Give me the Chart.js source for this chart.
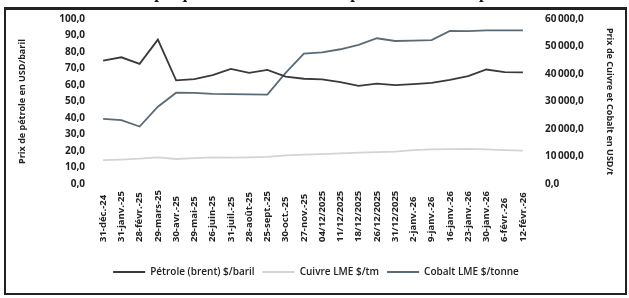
<!DOCTYPE html>
<html>
<head>
<meta charset="utf-8">
<script src="https://cdn.jsdelivr.net/npm/chart.js@4.4.1/dist/chart.umd.min.js"></script>
<style>
html, body { margin: 0; padding: 0; background: #fff; width: 629px; height: 298px; overflow: hidden; }
#wrap { position: relative; width: 629px; height: 298px; }
#titre { position: absolute; left: 0; top: -17px; width: 551px; text-align: right; font: bold 17px "Liberation Serif"; color: #111; white-space: nowrap; }
#cadre { position: absolute; left: 4px; top: 7px; width: 619px; height: 283px; border: 2px solid #222; border-top-width: 3px; }
canvas { position: absolute; left: 0; top: 0; }
</style>
</head>
<body>
<div id="wrap">
  <canvas id="graphe" width="629" height="298"></canvas>
  <div id="cadre"></div>
  <div id="titre">Graphique n°1 : Évolution des prix des matières premières</div>
</div>
<script>
// donnees
var dates = ["31-déc.-24", "31-janv.-25", "28-févr.-25", "29-mars-25", "30-avr.-25", "29-mai-25",
  "26-juin-25", "31-juil.-25", "28-août-25", "25-sept.-25", "30-oct.-25", "27-nov.-25",
  "04/12/2025", "11/12/2025", "18/12/2025", "26/12/2025", "31/12/2025", "2-janv.-26",
  "9-janv.-26", "16-janv.-26", "23-janv.-26", "30-janv.-26", "6-févr.-26", "12-févr.-26"];

var petrole = [74.8, 76.8, 72.8, 87.5, 62.8, 63.6, 66.0, 69.8, 67.3, 69.2, 65.1, 63.8,
  63.4, 61.7, 59.5, 60.8, 59.9, 60.5, 61.3, 63.1, 65.4, 69.4, 67.8, 67.6];

var cuivre = [8700, 8900, 9200, 9700, 9100, 9400, 9700, 9600, 9700, 9900, 10400, 10700,
  10900, 11100, 11400, 11600, 11800, 12300, 12600, 12700, 12800, 12600, 12300, 12100];

var cobalt = [23700, 23200, 20900, 28100, 33200, 33100, 32800, 32700, 32600, 32500, 40400, 47400,
  47900, 49000, 50600, 53000, 52000, 52100, 52300, 55700, 55600, 55900, 55900, 55900];

var ticksGauche = [0, 10, 20, 30, 40, 50, 60, 70, 80, 90, 100];
var ticksDroite = [0, 10000, 20000, 30000, 40000, 50000, 60000];

function fmt1(v) {
  return v.toFixed(1).replace('.', ',');
}
function fmtMilliers(v) {
  var ent = Math.round(v).toString().replace(/\B(?=(\d{3})+(?!\d))/g, '\u2009');
  return ent + ',0';
}

var police = '"Open Sans"';

// etiquettes des dates, alignees en bas comme dans Excel
var etiquettesX = {
  id: 'etiquettesX',
  afterDraw: function(chart) {
    var sx = chart.scales.x;
    var ctx = chart.ctx;
    ctx.save();
    ctx.font = 'bold 9.5px ' + police;
    ctx.fillStyle = '#222';
    ctx.textAlign = 'left';
    ctx.textBaseline = 'middle';
    var yBas = chart.chartArea.bottom + 58;
    dates.forEach(function(d, i) {
      var x = sx.getPixelForValue(i);
      ctx.save();
      ctx.translate(x, yBas);
      ctx.rotate(-Math.PI / 2);
      ctx.fillText(d, 0, 0);
      ctx.restore();
    });
    ctx.restore();
  }
};

var ctx = document.getElementById("graphe");

new Chart(ctx, {
  type: "line",
  data: {
    labels: dates,
    datasets: [
      {
        label: "Pétrole (brent) $/baril",
        data: petrole,
        yAxisID: "y",
        borderColor: "#3a3a3a",
        backgroundColor: "#3a3a3a",
        borderWidth: 1.8,
        pointRadius: 0,
        tension: 0
      },
      {
        label: "Cuivre LME $/tm",
        data: cuivre,
        yAxisID: "y1",
        borderColor: "#d4d4d4",
        backgroundColor: "#d4d4d4",
        borderWidth: 1.8,
        pointRadius: 0,
        tension: 0
      },
      {
        label: "Cobalt LME $/tonne",
        data: cobalt,
        yAxisID: "y1",
        borderColor: "#5a6a76",
        backgroundColor: "#5a6a76",
        borderWidth: 1.8,
        pointRadius: 0,
        tension: 0
      }
    ]
  },
  options: {
    responsive: false,
    animation: false,
    devicePixelRatio: 1,
    layout: { padding: { left: 17, right: 14, top: 17, bottom: 11 } },
    plugins: {
      tooltip: { enabled: false },
      legend: {
        position: "bottom",
        labels: {
          usePointStyle: true,
          pointStyle: "line",
          pointStyleWidth: 32,
          padding: 8,
          color: "#222",
          font: { family: police, size: 10, weight: "600" }
        }
      }
    },
    scales: {
      x: {
        offset: true,
        grid: { display: false, drawTicks: false },
        border: { display: false },
        ticks: { display: false },
        afterFit: function(s) { s.height = 75; }
      },
      y: {
        position: "left",
        min: 0,
        max: 100,
        afterBuildTicks: function(s) { s.ticks = ticksGauche.map(function(v) { return { value: v }; }); },
        grid: { display: false, drawTicks: false },
        border: { display: false },
        ticks: {
          padding: 9,
          color: "#222",
          font: { family: police, size: 10, weight: "bold" },
          callback: function(v) { return fmt1(v); }
        },
        title: {
          display: true,
          text: "Prix de pétrole en USD/baril",
          color: "#222",
          padding: 0,
          font: { family: police, size: 9, weight: "bold" }
        },
        afterFit: function(s) { s.width = 77; }
      },
      y1: {
        position: "right",
        min: 0,
        max: 60000,
        afterBuildTicks: function(s) { s.ticks = ticksDroite.map(function(v) { return { value: v }; }); },
        grid: { display: false, drawTicks: false },
        border: { display: false },
        ticks: {
          padding: 13,
          color: "#222",
          font: { family: police, size: 10, weight: "bold" },
          callback: function(v) { return fmtMilliers(v); }
        },
        title: {
          display: true,
          text: "Prix de Cuivre et Cobalt en USD/t",
          color: "#222",
          padding: 0,
          font: { family: police, size: 9, weight: "bold" }
        },
        afterFit: function(s) { s.width = 83; }
      }
    }
  },
  plugins: [etiquettesX]
});
</script>
</body>
</html>
